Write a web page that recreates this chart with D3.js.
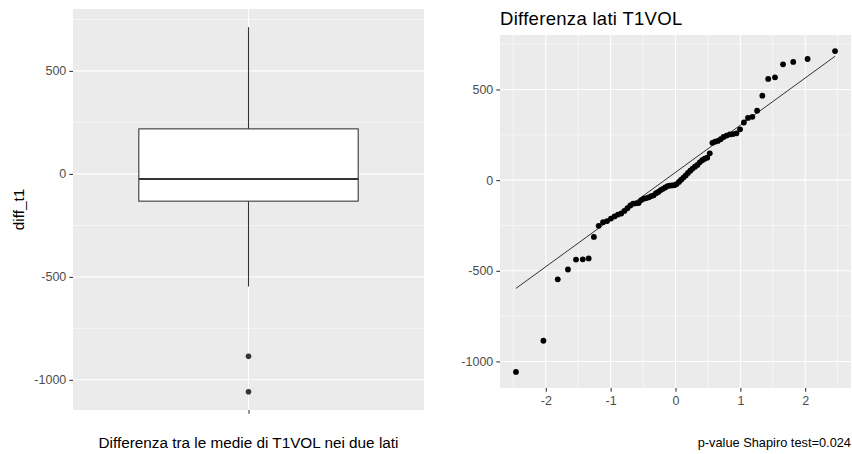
<!DOCTYPE html>
<html>
<head>
<meta charset="utf-8">
<script src="https://cdn.jsdelivr.net/npm/d3@7"></script>
<style>
body { margin: 0; background: #ffffff; }
svg text { font-family: "Liberation Sans", Arial, sans-serif; }
</style>
</head>
<body>
<svg id="grafico" width="852" height="454"></svg>
<script>
"use strict";

// valori di diff_t1 (ordinati)
var diffT1 = [
    -1058, -886, -547, -493, -438, -437, -432, -313, -252, -232,
    -226, -212, -200, -190, -184, -170, -155, -140, -130, -128,
    -126, -110, -102, -99, -95, -88, -84, -72, -65, -55,
    -48, -40, -33, -30, -29, -28, -22, -10, 2, 14,
    26, 40, 52, 64, 74, 84, 98, 110, 118, 124,
    148, 206, 212, 216, 226, 238, 246, 252, 254, 258,
    280, 318, 343, 349, 383, 466, 558, 567, 639, 652,
    668, 712
];

var categorie = [""];
var tickY = [-1000, -500, 0, 500];
var tickYMinori = [-750, -250, 250, 750];
var tickQQ = [-2, -1, 0, 1, 2];
var tickQQMinori = [-2.5, -1.5, -0.5, 0.5, 1.5, 2.5];

var titoloQQ = "Differenza lati T1VOL";
var titoloAsseX = "Differenza tra le medie di T1VOL nei due lati";
var titoloAsseY = "diff_t1";
var didascalia = "p-value Shapiro test=0.024";

var svg = d3.select("#grafico");
var grigioSfondo = "#EBEBEB";

// quantile normale inverso (approssimazione di Acklam)
function qnorm(p) {
    var a = [-39.69683028665376, 220.9460984245205, -275.9285104469687, 138.3577518672690, -30.66479806614716, 2.506628277459239];
    var b = [-54.47609879822406, 161.5858368580409, -155.6989798598866, 66.80131188771972, -13.28068155288572];
    var c = [-0.007784894002430293, -0.3223964580411365, -2.400758277161838, -2.549732539343734, 4.374664141464968, 2.938163982698783];
    var d = [0.007784695709041462, 0.3224671290700398, 2.445134137142996, 3.754408661907416];
    var q, r;
    if (p < 0.02425) {
        q = Math.sqrt(-2 * Math.log(p));
        return (((((c[0]*q+c[1])*q+c[2])*q+c[3])*q+c[4])*q+c[5]) / ((((d[0]*q+d[1])*q+d[2])*q+d[3])*q+1);
    }
    if (p > 1 - 0.02425) {
        q = Math.sqrt(-2 * Math.log(1 - p));
        return -(((((c[0]*q+c[1])*q+c[2])*q+c[3])*q+c[4])*q+c[5]) / ((((d[0]*q+d[1])*q+d[2])*q+d[3])*q+1);
    }
    q = p - 0.5;
    r = q * q;
    return (((((a[0]*r+a[1])*r+a[2])*r+a[3])*r+a[4])*r+a[5])*q / (((((b[0]*r+b[1])*r+b[2])*r+b[3])*r+b[4])*r+1);
}

// statistiche del boxplot (come ggplot, quantili tipo 7)
var ordinati = diffT1.slice().sort(d3.ascending);
var q1 = d3.quantile(ordinati, 0.25);
var mediana = d3.quantile(ordinati, 0.5);
var q3 = d3.quantile(ordinati, 0.75);
var iqr = q3 - q1;
var baffoSup = d3.max(ordinati.filter(function(v) { return v <= q3 + 1.5 * iqr; }));
var baffoInf = d3.min(ordinati.filter(function(v) { return v >= q1 - 1.5 * iqr; }));
var outlier = ordinati.filter(function(v) { return v > baffoSup || v < baffoInf; });

// scala y comune con espansione del 5%
var estremi = d3.extent(ordinati);
var margineY = (estremi[1] - estremi[0]) * 0.05;
var dominioY = [estremi[0] - margineY, estremi[1] + margineY];

// etichette col trattino normale, come in R
var formatoTick = function(d) { return String(d); };

function stileAsse(g) {
    g.select(".domain").remove();
    g.selectAll(".tick line").attr("stroke", "#333333").attr("stroke-width", 1.07);
    g.selectAll(".tick text").attr("fill", "#4D4D4D").style("font-size", "12.5px");
}

// ---------- pannello sinistro : boxplot ----------
var pannelloSx = { x0: 73, x1: 424, y0: 9, y1: 410 };

var ySx = d3.scaleLinear().domain(dominioY).range([pannelloSx.y1, pannelloSx.y0]);
// una sola categoria in posizione 1, con 0.6 di espansione per lato
var xSx = d3.scaleLinear().domain([0.4, 1.6]).range([pannelloSx.x0, pannelloSx.x1]);
var posCategoria = function(c) { return xSx(categorie.indexOf(c) + 1); };

var gSx = svg.append("g");
gSx.append("rect")
    .attr("x", pannelloSx.x0).attr("y", pannelloSx.y0)
    .attr("width", pannelloSx.x1 - pannelloSx.x0).attr("height", pannelloSx.y1 - pannelloSx.y0)
    .attr("fill", grigioSfondo);

gSx.selectAll("line.minore").data(tickYMinori).enter().append("line")
    .attr("x1", pannelloSx.x0).attr("x2", pannelloSx.x1)
    .attr("y1", function(d) { return ySx(d); }).attr("y2", function(d) { return ySx(d); })
    .attr("stroke", "#ffffff").attr("stroke-width", 0.53);
gSx.selectAll("line.maggiore").data(tickY).enter().append("line")
    .attr("x1", pannelloSx.x0).attr("x2", pannelloSx.x1)
    .attr("y1", function(d) { return ySx(d); }).attr("y2", function(d) { return ySx(d); })
    .attr("stroke", "#ffffff").attr("stroke-width", 1.07);
gSx.selectAll("line.verticale").data(categorie).enter().append("line")
    .attr("x1", posCategoria).attr("x2", posCategoria)
    .attr("y1", pannelloSx.y0).attr("y2", pannelloSx.y1)
    .attr("stroke", "#ffffff").attr("stroke-width", 1.07);

var xc = posCategoria(categorie[0]);
var metaBox = (xSx(1.375) - xSx(0.625)) / 2;

// baffi
gSx.append("line").attr("x1", xc).attr("x2", xc).attr("y1", ySx(q3)).attr("y2", ySx(baffoSup))
    .attr("stroke", "#333333").attr("stroke-width", 1.07);
gSx.append("line").attr("x1", xc).attr("x2", xc).attr("y1", ySx(q1)).attr("y2", ySx(baffoInf))
    .attr("stroke", "#333333").attr("stroke-width", 1.07);
// scatola
gSx.append("rect")
    .attr("x", xc - metaBox).attr("y", ySx(q3))
    .attr("width", metaBox * 2).attr("height", ySx(q1) - ySx(q3))
    .attr("fill", "#ffffff").attr("stroke", "#333333").attr("stroke-width", 1.07);
gSx.append("line").attr("x1", xc - metaBox).attr("x2", xc + metaBox)
    .attr("y1", ySx(mediana)).attr("y2", ySx(mediana))
    .attr("stroke", "#333333").attr("stroke-width", 2.13);
// outlier
gSx.selectAll("circle").data(outlier).enter().append("circle")
    .attr("cx", xc).attr("cy", function(d) { return ySx(d); })
    .attr("r", 2.8).attr("fill", "#333333");

var asseYSx = gSx.append("g").attr("transform", "translate(" + pannelloSx.x0 + ",0)")
    .call(d3.axisLeft(ySx).tickValues(tickY).tickSize(3.7).tickPadding(3).tickFormat(formatoTick));
stileAsse(asseYSx);
var asseXSx = gSx.append("g").attr("transform", "translate(0," + pannelloSx.y1 + ")")
    .call(d3.axisBottom(xSx).tickValues([1]).tickSize(3.7).tickFormat(function() { return categorie[0]; }));
stileAsse(asseXSx);

gSx.append("text").attr("x", xc).attr("y", 448).attr("text-anchor", "middle")
    .style("font-size", "15.3px").attr("fill", "#000000").text(titoloAsseX);
gSx.append("text").attr("transform", "translate(24," + ((pannelloSx.y0 + pannelloSx.y1) / 2) + ") rotate(-90)")
    .attr("text-anchor", "middle").style("font-size", "15.3px").attr("fill", "#000000").text(titoloAsseY);

// ---------- pannello destro : grafico QQ ----------
var pannelloDx = { x0: 500, x1: 851, y0: 35, y1: 388 };
var n = ordinati.length;
var puntiQQ = ordinati.map(function(v, i) {
    return { teorico: qnorm((i + 0.5) / n), campione: v };
});
var estremiX = d3.extent(puntiQQ, function(d) { return d.teorico; });
var margineX = (estremiX[1] - estremiX[0]) * 0.05;

var xDx = d3.scaleLinear().domain([estremiX[0] - margineX, estremiX[1] + margineX]).range([pannelloDx.x0, pannelloDx.x1]);
var yDx = d3.scaleLinear().domain(dominioY).range([pannelloDx.y1, pannelloDx.y0]);

var gDx = svg.append("g");
gDx.append("rect")
    .attr("x", pannelloDx.x0).attr("y", pannelloDx.y0)
    .attr("width", pannelloDx.x1 - pannelloDx.x0).attr("height", pannelloDx.y1 - pannelloDx.y0)
    .attr("fill", grigioSfondo);

gDx.selectAll("line.minY").data(tickYMinori).enter().append("line")
    .attr("x1", pannelloDx.x0).attr("x2", pannelloDx.x1)
    .attr("y1", function(d) { return yDx(d); }).attr("y2", function(d) { return yDx(d); })
    .attr("stroke", "#ffffff").attr("stroke-width", 0.53);
gDx.selectAll("line.minX").data(tickQQMinori).enter().append("line")
    .attr("y1", pannelloDx.y0).attr("y2", pannelloDx.y1)
    .attr("x1", function(d) { return xDx(d); }).attr("x2", function(d) { return xDx(d); })
    .attr("stroke", "#ffffff").attr("stroke-width", 0.53);
gDx.selectAll("line.magY").data(tickY).enter().append("line")
    .attr("x1", pannelloDx.x0).attr("x2", pannelloDx.x1)
    .attr("y1", function(d) { return yDx(d); }).attr("y2", function(d) { return yDx(d); })
    .attr("stroke", "#ffffff").attr("stroke-width", 1.07);
gDx.selectAll("line.magX").data(tickQQ).enter().append("line")
    .attr("y1", pannelloDx.y0).attr("y2", pannelloDx.y1)
    .attr("x1", function(d) { return xDx(d); }).attr("x2", function(d) { return xDx(d); })
    .attr("stroke", "#ffffff").attr("stroke-width", 1.07);

// retta qq (passa per il primo e terzo quartile)
var pendenza = (q3 - q1) / (qnorm(0.75) - qnorm(0.25));
var intercetta = q1 - pendenza * qnorm(0.25);
gDx.append("line")
    .attr("x1", xDx(estremiX[0])).attr("y1", yDx(intercetta + pendenza * estremiX[0]))
    .attr("x2", xDx(estremiX[1])).attr("y2", yDx(intercetta + pendenza * estremiX[1]))
    .attr("stroke", "#000000").attr("stroke-width", 0.8);

gDx.selectAll("circle").data(puntiQQ).enter().append("circle")
    .attr("cx", function(d) { return xDx(d.teorico); })
    .attr("cy", function(d) { return yDx(d.campione); })
    .attr("r", 2.9).attr("fill", "#000000");

var asseYDx = gDx.append("g").attr("transform", "translate(" + pannelloDx.x0 + ",0)")
    .call(d3.axisLeft(yDx).tickValues(tickY).tickSize(3.7).tickPadding(3).tickFormat(formatoTick));
stileAsse(asseYDx);
var asseXDx = gDx.append("g").attr("transform", "translate(0," + pannelloDx.y1 + ")")
    .call(d3.axisBottom(xDx).tickValues(tickQQ).tickSize(3.7).tickPadding(4).tickFormat(formatoTick));
stileAsse(asseXDx);

gDx.append("text").attr("x", pannelloDx.x0).attr("y", 25)
    .style("font-size", "18.5px").style("letter-spacing", "0.3px").attr("fill", "#000000").text(titoloQQ);
gDx.append("text").attr("x", pannelloDx.x1).attr("y", 447).attr("text-anchor", "end")
    .style("font-size", "12.8px").attr("fill", "#000000").text(didascalia);
</script>
</body>
</html>
